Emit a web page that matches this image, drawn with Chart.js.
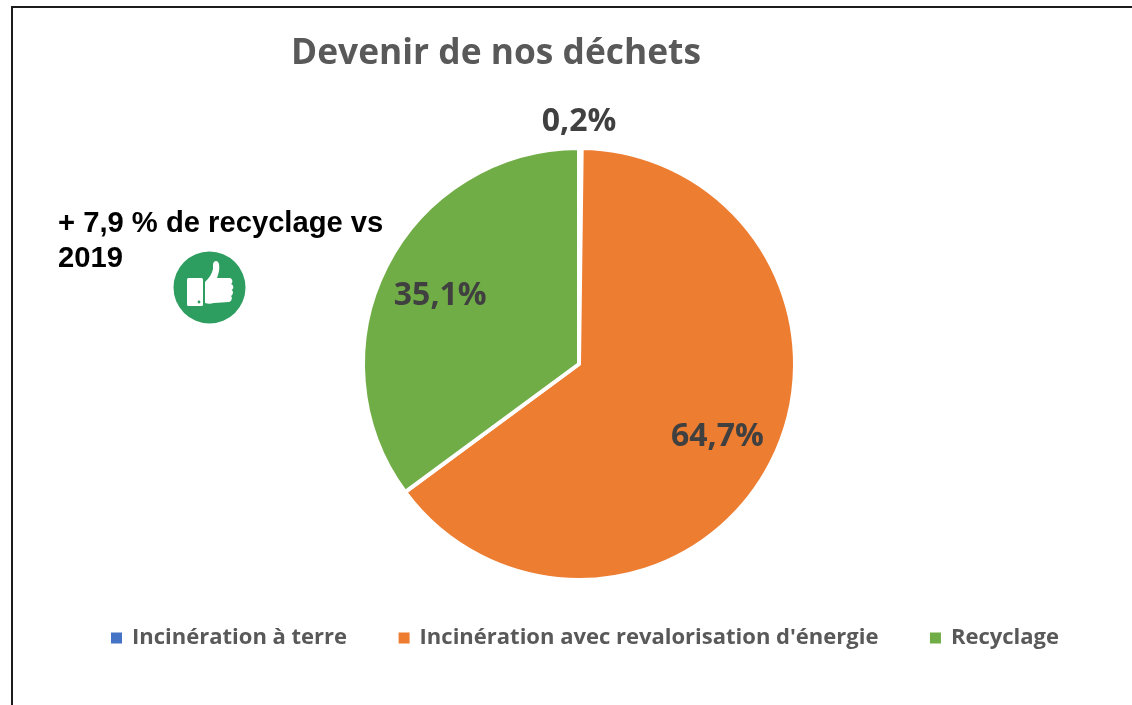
<!DOCTYPE html>
<html lang="fr">
<head>
<meta charset="utf-8">
<title>Devenir de nos déchets</title>
<script src="https://cdn.jsdelivr.net/npm/chart.js@4/dist/chart.umd.min.js"></script>
<style>
    html, body { margin: 0; padding: 0; background: #fff; overflow: hidden; }
    #page { position: relative; width: 1132px; height: 705px; }
    #frame { position: absolute; left: 11px; top: 6px; right: 0; bottom: 0; border-top: 2px solid #1c1c1c; border-left: 2px solid #1c1c1c; }
    #note { position: absolute; left: 58px; top: 205px; width: 340px; font: bold 29.2px/35px "Liberation Sans", Arial, sans-serif; color: #000; }
    #thumb { position: absolute; left: 173px; top: 251px; }
    canvas { position: absolute; left: 0; top: 0; }
</style>
</head>
<body>
<div id="page">
    <div id="frame"></div>
    <canvas id="pieChart" width="1132" height="705"></canvas>
    <div id="note">+ 7,9 % de recyclage vs 2019</div>
    <svg id="thumb" width="73" height="73" viewBox="0 0 73 73">
        <circle cx="36.5" cy="36.5" r="36" fill="#2e9e60"/>
        <rect x="14" y="27" width="16" height="28" rx="1.5" fill="#fff"/>
        <circle cx="26" cy="51" r="1.4" fill="#2e9e60"/>
        <path d="M32 52 L32 31 C36 27 39 23 40 18 L40 13 C41 9 45 9 46 13 C47 19 45 24 44 27 L57 27 C60 28 60 32 58 33 C61 34 61 38 58.500 39 C61 40 60 44 58 45 C60 47 58 51 56 51 L41 52 C37 53 35 53 32 52 Z" fill="#fff"/>
    </svg>
</div>
<script>
const categories = ['Incinération à terre', "Incinération avec revalorisation d'énergie", 'Recyclage'];
const shares = [0.2, 64.7, 35.1];
const sliceColors = ['#4472C4', '#ED7D31', '#70AD47'];

const legendPadding = 52.5;

// puts title, legend and pie where the reference has them
const placeBoxes = {
    id: 'placeBoxes',
    afterLayout(chart) {
        chart.chartArea = { left: 361, top: 146, right: 797, bottom: 582, width: 436, height: 436 };
        const title = chart.titleBlock;
        title.left = 291; title.right = 701; title.width = 410;
        title.top = 33; title.bottom = 33 + title.height;
        const legend = chart.legend;
        legend.left = 112 - legendPadding; legend.right = 1400; legend.width = legend.right - legend.left;
        legend.top = 574.5; legend.bottom = 574.5 + legend.height;
    }
};

// percentage labels, the tiny slice gets its label outside the pie
const sliceLabels = {
    id: 'sliceLabels',
    afterDatasetsDraw(chart) {
        const ctx = chart.ctx;
        ctx.save();
        ctx.font = 'bold 32px "Open Sans"';
        ctx.fillStyle = '#404040';
        ctx.textAlign = 'center';
        ctx.textBaseline = 'middle';
        chart.getDatasetMeta(0).data.forEach((arc, i) => {
            const mid = (arc.startAngle + arc.endAngle) / 2;
            const text = shares[i].toFixed(1).replace('.', ',') + '%';
            if (shares[i] < 1) {
                ctx.fillText(text, arc.x, arc.y - arc.outerRadius * 1.12);
            } else {
                const r = arc.outerRadius * 0.72;
                ctx.fillText(text, arc.x + Math.cos(mid) * r, arc.y + Math.sin(mid) * r + 2);
            }
        });
        ctx.restore();
    }
};

new Chart(document.getElementById('pieChart'), {
    type: 'pie',
    data: {
        labels: categories,
        datasets: [{
            data: shares,
            backgroundColor: sliceColors,
            borderColor: '#fff',
            borderWidth: 4
        }]
    },
    options: {
        responsive: false,
        animation: false,
        plugins: {
            title: {
                display: true,
                text: 'Devenir de nos déchets',
                color: '#595959',
                font: { family: '"Open Sans"', size: 35.5, weight: 'bold' },
                padding: 0
            },
            legend: {
                position: 'bottom',
                align: 'start',
                labels: {
                    boxWidth: 9,
                    boxHeight: 9,
                    padding: legendPadding,
                    color: '#595959',
                    font: { family: '"Open Sans"', size: 22, weight: 'bold' },
                    generateLabels(chart) {
                        return Chart.overrides.pie.plugins.legend.labels.generateLabels(chart).map(item => {
                            item.strokeStyle = item.fillStyle;
                            item.lineWidth = 2;
                            return item;
                        });
                    }
                }
            },
            tooltip: { enabled: false }
        }
    },
    plugins: [placeBoxes, sliceLabels]
});
</script>
</body>
</html>
